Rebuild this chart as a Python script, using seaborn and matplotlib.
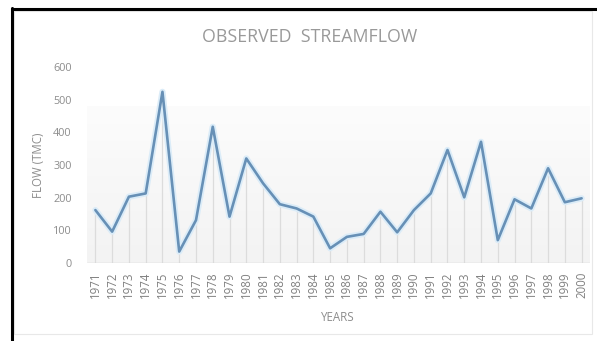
import numpy as np
import pandas as pd
import seaborn as sns
import matplotlib
matplotlib.use("Agg")
import matplotlib.pyplot as plt
from matplotlib.patches import Rectangle
from matplotlib.lines import Line2D

years = list(range(1971, 2001))
flow = [162, 96, 203, 213, 524, 35, 131, 417, 142, 320,
        244, 180, 167, 142, 45, 80, 89, 157, 94, 162,
        213, 346, 201, 371, 70, 195, 167, 290, 186, 198]
year_labels = [str(y) for y in years]
yticks = [0, 100, 200, 300, 400, 500, 600]

title = "OBSERVED  STREAMFLOW"
xlabel = "YEARS"
ylabel = "FLOW (TMC)"

df = pd.DataFrame({"Year": years, "Flow": flow})

sns.set_theme(style="white")
plt.rcParams["font.family"] = ["Open Sans", "DejaVu Sans"]

W, H = 597, 341
fig = plt.figure(figsize=(W / 100, H / 100), dpi=100)
fig.patch.set_facecolor("white")

# outer black frame (left and top)
fig.add_artist(Line2D([12 / W, 12 / W], [0, 1 - 8 / H], color="black", lw=2.2,
                      transform=fig.transFigure))
fig.add_artist(Line2D([12 / W, 1], [1 - 9 / H, 1 - 9 / H], color="black", lw=2.2,
                      transform=fig.transFigure))
# inner faint chart border
fig.add_artist(Rectangle((14 / W, 1 - 334 / H), (592 - 14) / W, (334 - 11) / H,
                         transform=fig.transFigure, fill=False, ec="#e8e8e8", lw=0.8))

left, right = 87, 590
top, bottom = 67, 263
ax = fig.add_axes([left / W, 1 - bottom / H, (right - left) / W, (bottom - top) / H])
ax.set_facecolor("white")

# subtle background gradient
grad = np.linspace(0, 1, 256).reshape(-1, 1)
cmap = matplotlib.colors.LinearSegmentedColormap.from_list("g", ["#fcfcfc", "#f3f3f3"])
ax.imshow(grad, extent=(years[0] - 0.5, years[-1] + 0.5, 0, 480), aspect="auto",
          cmap=cmap, origin="upper", zorder=0)

# drop lines
ax.vlines(df["Year"], 0, df["Flow"], color="#dcdcdc", lw=0.9, zorder=1)
ax.axhline(0, color="#d4d4d4", lw=1.0, zorder=1)

# glow
sns.lineplot(data=df, x="Year", y="Flow", ax=ax, color="#dbecf8", lw=4.5, zorder=2)
sns.lineplot(data=df, x="Year", y="Flow", ax=ax, color="#6790b6", lw=1.9, zorder=3)

ax.set_xlim(years[0] - 0.5, years[-1] + 0.5)
ax.set_ylim(0, 600)
ax.set_yticks(yticks)
ax.set_yticklabels([str(v) for v in yticks], color="#8c8c8c", fontsize=7.8)
ax.set_xticks(years)
ax.set_xticklabels(year_labels, rotation=90, color="#808080", fontsize=8.3)
ax.tick_params(axis="x", length=0, pad=6)
ax.tick_params(axis="y", length=0, pad=11)
for s in ax.spines.values():
    s.set_visible(False)
ax.set_xlabel(xlabel, color="#8c8c8c", fontsize=8.3)
ax.set_ylabel(ylabel, color="#8c8c8c", fontsize=8.3)
ax.xaxis.set_label_coords((338 - left) / (right - left), -(311 - bottom) / (bottom - top))
ax.yaxis.set_label_coords(-(87 - 45) / (right - left), 0.5)
ax.grid(False)

fig.text(310 / W, 1 - 37 / H, title, ha="center", va="center", color="#999999",
         fontsize=12.8)

fig.savefig("out.png", dpi=100)
